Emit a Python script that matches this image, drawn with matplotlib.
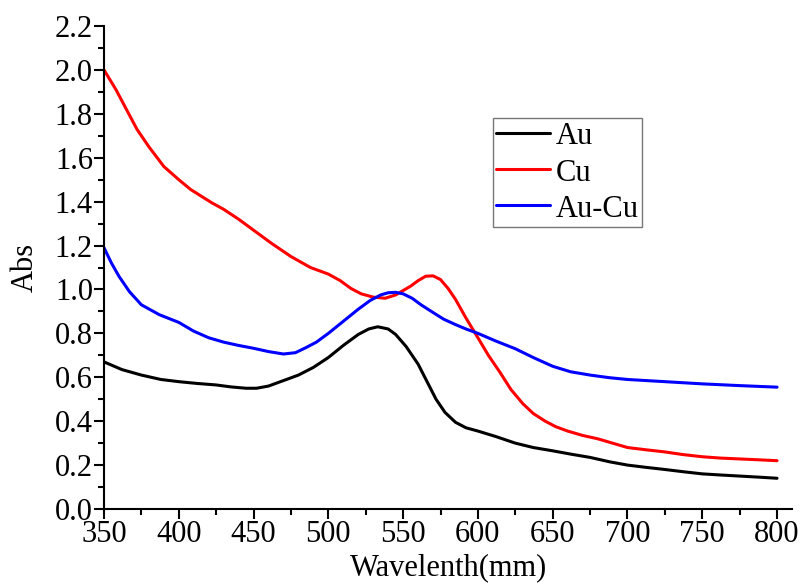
import matplotlib
matplotlib.use("Agg")
import matplotlib.pyplot as plt
from matplotlib.ticker import MultipleLocator

plt.rcParams['font.family'] = ['Liberation Serif', 'DejaVu Serif']

au_x = [350, 362, 375, 388, 400, 412, 425, 435, 445, 452, 460, 470, 480, 490, 500, 510, 520, 527, 533, 540, 545, 552, 560, 566, 572, 578, 585, 592, 600, 612, 625, 637, 650, 662, 675, 688, 700, 712, 725, 737, 750, 762, 775, 788, 800]
au_y = [0.67, 0.635, 0.61, 0.59, 0.58, 0.572, 0.565, 0.556, 0.55, 0.55, 0.56, 0.585, 0.61, 0.645, 0.69, 0.745, 0.795, 0.82, 0.83, 0.82, 0.795, 0.74, 0.66, 0.58, 0.5, 0.44, 0.395, 0.37, 0.355, 0.33, 0.3, 0.28, 0.265, 0.25, 0.235, 0.215, 0.2, 0.19, 0.18, 0.17, 0.16, 0.155, 0.15, 0.145, 0.14]

cu_x = [350, 358, 365, 372, 380, 390, 400, 408, 415, 422, 430, 440, 450, 462, 475, 488, 500, 508, 515, 522, 530, 538, 545, 550, 555, 560, 565, 570, 575, 580, 585, 592, 600, 607, 615, 622, 630, 637, 645, 652, 660, 670, 680, 690, 700, 712, 725, 737, 750, 762, 775, 788, 800]
cu_y = [2.0, 1.91, 1.82, 1.73, 1.65, 1.56, 1.5, 1.455, 1.425, 1.395, 1.365, 1.32, 1.27, 1.21, 1.15, 1.1, 1.07, 1.04, 1.005, 0.98, 0.965, 0.96, 0.975, 0.995, 1.015, 1.04, 1.06, 1.062, 1.045, 1.005, 0.955, 0.87, 0.78, 0.7, 0.62, 0.545, 0.48, 0.435, 0.4, 0.375, 0.355, 0.335, 0.32, 0.3, 0.28, 0.27, 0.26, 0.248, 0.238, 0.232, 0.228, 0.224, 0.22]

aucu_x = [350, 355, 360, 367, 375, 387, 400, 410, 420, 430, 440, 450, 460, 470, 478, 485, 492, 500, 510, 520, 528, 535, 540, 545, 550, 556, 562, 570, 577, 585, 592, 600, 612, 625, 637, 650, 662, 675, 688, 700, 725, 750, 775, 800]
aucu_y = [1.19, 1.12, 1.06, 0.99, 0.93, 0.885, 0.85, 0.81, 0.78, 0.76, 0.745, 0.732, 0.717, 0.706, 0.712, 0.735, 0.76, 0.8, 0.855, 0.91, 0.95, 0.975, 0.985, 0.987, 0.98, 0.96, 0.93, 0.895, 0.865, 0.84, 0.82, 0.8, 0.765, 0.73, 0.69, 0.65, 0.625, 0.61, 0.598, 0.59, 0.58, 0.57, 0.562, 0.555]

series_labels = ['Au', 'Cu', 'Au-Cu']
series_colors = ['#000000', '#ff0000', '#0000ff']

fig = plt.figure(figsize=(8.01, 5.85), dpi=100)
ax = fig.add_axes([104/801, 1-509/585, (792-104)/801, (509-26)/585])

for (xs, ys), lab, col in zip([(au_x, au_y), (cu_x, cu_y), (aucu_x, aucu_y)], series_labels, series_colors):
    ax.plot(xs, ys, color=col, lw=2.2, label=lab, solid_capstyle='round')

ax.set_xlim(350, 810)
ax.set_ylim(0, 2.2)
ax.xaxis.set_major_locator(MultipleLocator(50))
ax.xaxis.set_minor_locator(MultipleLocator(25))
ax.yaxis.set_major_locator(MultipleLocator(0.2))
ax.yaxis.set_minor_locator(MultipleLocator(0.1))
ax.yaxis.set_major_formatter(matplotlib.ticker.FormatStrFormatter('%.1f'))

for s in ['top', 'right']:
    ax.spines[s].set_visible(False)
for s in ['left', 'bottom']:
    ax.spines[s].set_linewidth(1.5)
ax.tick_params(which='major', direction='out', length=7, width=1.5, labelsize=22, pad=1)
ax.tick_params(which='minor', direction='out', length=4, width=1.5)

ax.set_xlabel('Wavelenth(mm)', fontsize=22, labelpad=3)
ax.set_ylabel('Abs', fontsize=22, labelpad=11)

leg = ax.legend(loc='upper left', bbox_to_anchor=(493/801, 1-118/585), bbox_transform=fig.transFigure,
                fontsize=22, frameon=True, fancybox=False, borderaxespad=0, handlelength=1.75,
                handletextpad=0.2, borderpad=0.1, labelspacing=0.2, handleheight=0.9)
leg.get_frame().set_edgecolor('#555555')
leg.get_frame().set_linewidth(1.0)

fig.savefig('out.png', dpi=100)
